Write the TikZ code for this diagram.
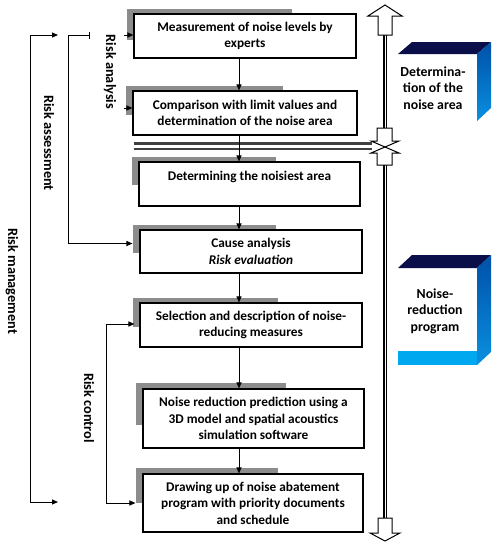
\documentclass[tikz,border=0pt]{standalone}
\usepackage{fontspec}
\setmainfont{Carlito}
\usetikzlibrary{arrows.meta}
\definecolor{shadowgray}{HTML}{8C8C8C}
\definecolor{navy}{HTML}{0A0F4A}
\definecolor{blueA}{HTML}{0050A8}
\definecolor{blueB}{HTML}{0A90E0}
\definecolor{cyanband}{HTML}{00A8F0}
\definecolor{hgray}{HTML}{404040}
\begin{document}
\begin{tikzpicture}[x=1pt,y=-1pt,
  font=\fontsize{13.3}{16.5}\selectfont\bfseries,
  stepbox/.style={draw=black, line width=1.1pt, fill=white, align=center, inner sep=0pt},
  shade box/.style={fill=shadowgray},
  arr/.style={line width=1pt, -{Triangle[length=6pt,width=5pt]}},
  darr/.style={line width=1pt, {Triangle[length=6pt,width=5pt]}-{Triangle[length=6pt,width=5pt]}},
  vlineout/.style={draw=black, line width=3.2pt},
  vlinein/.style={draw=white, line width=0.9pt},
  hlineout/.style={draw=hgray, line width=8pt},
  hlinein/.style={draw=white, line width=3pt},
  hollow/.style={draw=black, line width=1pt, fill=white, line join=miter},
  sidelabel/.style={rotate=-90, inner sep=0pt, font=\fontsize{14.3}{17}\selectfont\bfseries},
  cubelabel/.style={align=center, inner sep=0pt, font=\fontsize{13.8}{16.5}\selectfont\bfseries}
]
\useasboundingbox (0,0) rectangle (502,550);
\fill[white] (0,0) rectangle (502,550);

% shadows
\fill[shade box] (127,9) rectangle (292,40);
\fill[shade box] (126,86) rectangle (283,115);
\fill[shade box] (132,157) rectangle (276,185);
\fill[shade box] (133,225) rectangle (276,253);
\fill[shade box] (133,298) rectangle (278,327);
\fill[shade box] (136,383) rectangle (286,425);
\fill[shade box] (136,468) rectangle (278,503);

% boxes
\node[stepbox, minimum width=222pt, minimum height=44pt] (b1) at (245,36)
  {Measurement of noise levels by\\experts};
\node[stepbox, minimum width=224pt, minimum height=44pt] (b2) at (245,113)
  {Comparison with limit values and\\determination of the noise area};
\node[stepbox, minimum width=221pt, minimum height=44pt] (b3) at (249.5,184)
  {Determining the noisiest area\\\mbox{}};
\node[stepbox, minimum width=222pt, minimum height=43pt] (b4) at (251,251.5)
  {Cause analysis\\\textit{Risk evaluation}};
\node[stepbox, minimum width=222pt, minimum height=44pt] (b5) at (251,325)
  {Selection and description of noise-\\reducing measures};
\node[stepbox, minimum width=221pt, minimum height=59pt] (b6) at (253.5,418.5)
  {Noise reduction prediction using a\\3D model and spatial acoustics\\simulation software};
\node[stepbox, minimum width=220pt, minimum height=58pt] (b7) at (253,503)
  {Drawing up of noise abatement\\program with priority documents\\and schedule};

% horizontal double line
\coordinate (hl) at (134,146);
\coordinate (hr) at (372,146);
\draw[hlineout] (hl) -- (hr);
\draw[hlinein] (hl) -- (hr);

% vertical arrows between boxes
\coordinate (ax) at (239,0);
\draw[arr] (b1.south -| ax) -- (b2.north -| ax);
\draw[arr] (b2.south -| ax) -- (b3.north -| ax);
\draw[arr] (b3.south -| ax) -- (b4.north -| ax);
\draw[arr] (b4.south -| ax) -- (b5.north -| ax);
\draw[arr] (b5.south -| ax) -- (b6.north -| ax);
\draw[arr] (b6.south -| ax) -- (b7.north -| ax);

% risk analysis arrows
\coordinate (ra1) at (124,35);
\coordinate (ra2) at (124,108);
\draw[arr] (ra1) -- (ra1 -| b1.west);
\draw[arr] (ra2) -- (ra2 -| b2.west);

% risk management bracket
\coordinate (rmT) at (30,35);
\coordinate (rmTe) at (58,35);
\coordinate (rmB) at (30,502);
\coordinate (rmBe) at (58,502);
\draw[darr] (rmTe) -- (rmT) -- (rmB) -- (rmBe);

% risk assessment bracket
\coordinate (raT) at (68,35);
\coordinate (raTe) at (90,35);
\draw[line width=1pt, {Bar[width=7pt,line width=1pt]}-{Triangle[length=6pt,width=5pt]}, shorten >=7pt]
  (raTe) -- (raT) |- ([yshift=8pt]b4.west);

% risk control bracket
\coordinate (rc) at (106,0);
\draw[darr, shorten <=5pt, shorten >=7pt] ([yshift=1pt]b5.west) -| (rc |- b7.west) -- (b7.west);

% side labels
\node[sidelabel] (lrm) at (12,281) {Risk management};
\node[sidelabel] (lras) at (49,143) {Risk assessment};
\node[sidelabel] (lran) at (110,72) {Risk analysis};
\node[sidelabel] (lrc) at (89,408) {Risk control};

% right vertical line
\coordinate (v0) at (385,35);
\coordinate (v1) at (385,128);
\coordinate (v2) at (385,165);
\coordinate (v3) at (385,518);
\draw[vlineout] (v0) -- (v1);
\draw[vlinein] (v0) -- (v1);
\draw[vlineout] (v2) -- (v3);
\draw[vlinein] (v2) -- (v3);

% top hollow arrow
\draw[hollow] (385,5) -- (402,16) -- (392,16) -- (392,35) -- (378,35) -- (378,16) -- (368,16) -- cycle;
% bottom hollow arrow
\draw[hollow] (378,518) -- (392,518) -- (392,533) -- (400,533) -- (385,541) -- (370,533) -- (378,533) -- cycle;
% hourglass
\draw[hollow] (377,128) -- (392,128) -- (392,141) -- (399,141) -- (385,147) -- (371,141) -- (377,141) -- cycle;
\draw[hollow] (377,165) -- (392,165) -- (392,153) -- (399,153) -- (385,147) -- (371,153) -- (377,153) -- cycle;

% 3D box: determination
\fill[navy] (398,54) -- (412,42) -- (491,42) -- (477,54) -- cycle;
\shade[top color=blueA, bottom color=blueB] (477,54) -- (491,42) -- (491,108) -- (477,121) -- cycle;
\node[cubelabel] (td) at (433,88) {Determina-\\tion of the\\noise area};

% 3D box: noise-reduction program
\fill[navy] (398,268) -- (412,255) -- (491,255) -- (477,268) -- cycle;
\shade[top color=blueA, bottom color=blueB] (477,268) -- (491,255) -- (491,352) -- (477,365) -- cycle;
\fill[cyanband] (398,351) rectangle (477,365);
\node[cubelabel] (tn) at (435,311) {Noise-\\reduction\\program};
\end{tikzpicture}
\end{document}
